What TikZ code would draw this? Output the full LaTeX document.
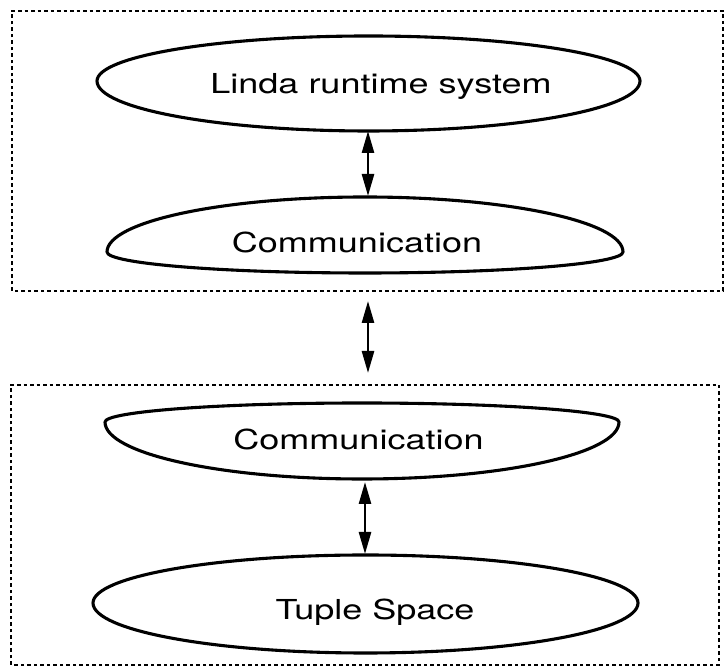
\documentclass[tikz,border=0pt]{standalone}
\usepackage{fontspec}
\setmainfont{TeX Gyre Heros}[FakeStretch=1.31]
\usetikzlibrary{arrows.meta}

\begin{document}
\begin{tikzpicture}[x=1pt,y=1pt,
  layer/.style={line width=3.1pt, line join=round},
  label/.style={anchor=base, inner sep=0pt, font=\fontsize{27.5}{33}\selectfont},
  frame/.style={line width=2.4pt, dash pattern=on 3.5pt off 3pt},
  link/.style={line width=2.6pt,
    {Triangle[length=22pt,width=12pt]}-{Triangle[length=22pt,width=12pt]}}]
\useasboundingbox (0,0) rectangle (728,671);

% dotted frames around the two hosts
\draw[frame] (12,380) rectangle (723,660);
\draw[frame] (11,6) rectangle (719,286);

% layer outlines: two half-ellipses joined at the tips
% Linda runtime system
\draw[layer] (97,590) arc[start angle=180,end angle=0,x radius=271.5pt,y radius=45pt]
  arc[start angle=0,end angle=-180,x radius=271.5pt,y radius=50pt] -- cycle;
% upper Communication
\draw[layer] (107,419) arc[start angle=180,end angle=0,x radius=258pt,y radius=55pt]
  arc[start angle=0,end angle=-180,x radius=258pt,y radius=21pt] -- cycle;
% lower Communication
\draw[layer] (105,249) arc[start angle=180,end angle=0,x radius=257pt,y radius=19pt]
  arc[start angle=0,end angle=-180,x radius=257pt,y radius=57pt] -- cycle;
% Tuple Space
\draw[layer] (93,68) arc[start angle=180,end angle=0,x radius=272.5pt,y radius=48pt]
  arc[start angle=0,end angle=-180,x radius=272.5pt,y radius=50pt] -- cycle;

% labels
\node[label] (lrs)  at (381,577) {Linda runtime system};
\node[label] (comA) at (357,418) {Communication};
\node[label] (comB) at (358.5,221) {Communication};
\node[label] (ts)   at (375,51)  {Tuple Space};

% attachment points on the outlines
\coordinate (lrs-s)  at (368,540);
\coordinate (comA-n) at (368,475);
\coordinate (comA-s) at (368,370);
\coordinate (comB-n) at (368,298);
\coordinate (comB-s) at (365,189);
\coordinate (ts-n)   at (365,117);

% two-way links
\draw[link] (lrs-s) -- (comA-n);
\draw[link] (comA-s) -- (comB-n);
\draw[link] (comB-s) -- (ts-n);
\end{tikzpicture}
\end{document}
